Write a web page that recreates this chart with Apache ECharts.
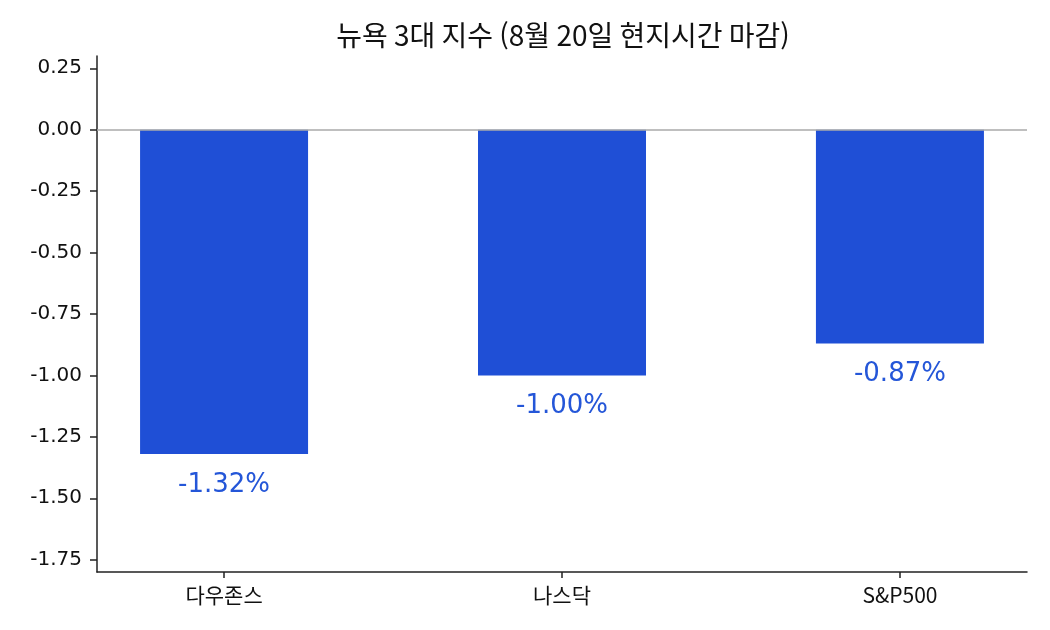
<!DOCTYPE html>
<html lang="ko">
<head>
  <meta charset="UTF-8">
  <title>뉴욕 3대 지수</title>
  <script src="https://cdn.jsdelivr.net/npm/echarts@6/dist/echarts.min.js"></script>
  <style>
    html, body { margin: 0; padding: 0; background: #fff; }
    #chart { width: 1050px; height: 630px; }
  </style>
</head>
<body>
<div id="chart"></div>
<script>
  // 데이터
  var categories = ['다우존스', '나스닥', 'S&P500'];
  var changes = [-1.32, -1.00, -0.87];
  var yTicks = [0.25, 0, -0.25, -0.5, -0.75, -1.0, -1.25, -1.5, -1.75];
  var xTicks = [0, 1, 2];

  var font = '"DejaVu Sans", "Noto Sans CJK KR", sans-serif';
  var krFont = '"Noto Sans CJK KR", sans-serif';
  var chart = echarts.init(document.getElementById('chart'));

  var barData = changes.map(function (v, i) { return [i, v]; });

  var option = {
    animation: false,
    title: {
      text: '뉴욕 3대 지수 (8월 20일 현지시간 마감)',
      left: 558,
      textAlign: 'center',
      top: 16,
      textStyle: { fontFamily: krFont, fontSize: 28, fontWeight: 'normal', color: '#111' }
    },
    grid: { left: 97, right: 23, top: 56, bottom: 58 },
    xAxis: {
      type: 'value',
      min: -0.376,
      max: 2.376,
      splitLine: { show: false },
      axisLine: { show: true, onZero: false, lineStyle: { color: '#222', width: 1.5 } },
      axisTick: { show: true, customValues: xTicks, length: 6, lineStyle: { color: '#222', width: 1.5 } },
      axisLabel: {
        customValues: xTicks,
        margin: 13,
        fontFamily: krFont,
        fontSize: 21,
        color: '#111',
        formatter: function (v) { return categories[Math.round(v)]; }
      }
    },
    yAxis: {
      type: 'value',
      min: -1.8,
      max: 0.3,
      splitLine: { show: false },
      axisLine: { show: true, onZero: false, lineStyle: { color: '#222', width: 1.5 } },
      axisTick: { show: true, customValues: yTicks, length: 7, lineStyle: { color: '#222', width: 1.5 } },
      axisLabel: {
        customValues: yTicks,
        margin: 15,
        fontFamily: font,
        fontSize: 20,
        color: '#111',
        formatter: function (v) { return v.toFixed(2); }
      }
    },
    series: [{
      type: 'bar',
      data: barData,
      barWidth: 168,
      itemStyle: { color: '#1f4fd6' },
      label: {
        show: true,
        position: 'bottom',
        distance: 18,
        fontFamily: font,
        fontSize: 26,
        color: '#2456d8',
        formatter: function (p) { return p.value[1].toFixed(2) + '%'; }
      },
      markLine: {
        silent: true,
        symbol: 'none',
        label: { show: false },
        lineStyle: { color: '#aaaaaa', width: 1.5, type: 'solid' },
        data: [{ yAxis: 0 }]
      }
    }]
  };

  chart.setOption(option);
</script>
</body>
</html>
